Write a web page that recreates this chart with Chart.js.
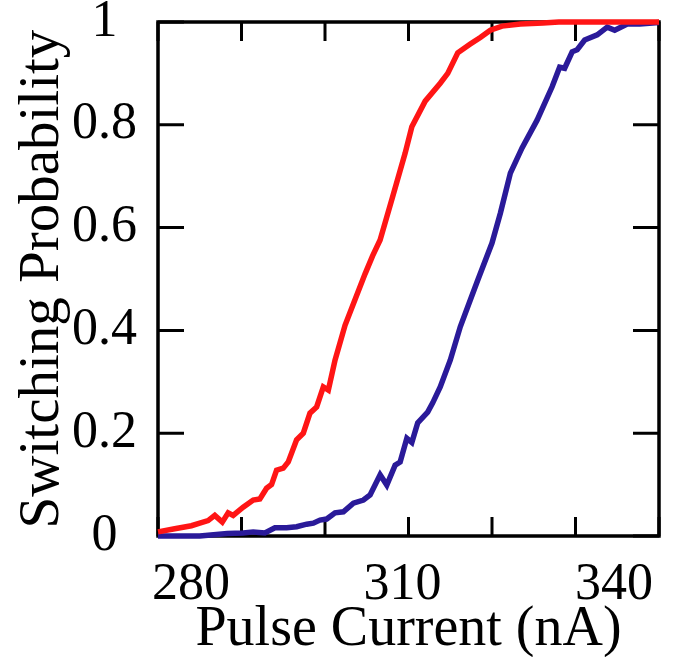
<!DOCTYPE html>
<html>
<head>
<meta charset="utf-8">
<script src="https://cdn.jsdelivr.net/npm/chart.js@4"></script>
<style>
  html, body { margin: 0; padding: 0; background: #fff; }
  #wrap { width: 694px; height: 657px; }
</style>
</head>
<body>
<div id="wrap"><canvas id="c" width="694" height="657"></canvas></div>
<script>
// ---- data ----
const currentRed = [280, 282, 284, 285, 286, 286.8, 287.7, 288.4, 289, 290.2, 291.4, 292.2, 293, 293.6, 294.2, 295, 295.6, 296.6, 297.4, 298.2, 299, 299.8, 300.4, 301.2, 302.4, 303.6, 304.8, 305.7, 306.6, 308.1, 309.6, 310.4, 312, 313.8, 314.7, 315.9, 317.4, 318.6, 319.8, 321.2, 323.4, 326.1, 328, 340];
const probRed = [0.008, 0.014, 0.02, 0.025, 0.03, 0.04, 0.027, 0.045, 0.04, 0.056, 0.07, 0.072, 0.093, 0.1, 0.128, 0.132, 0.144, 0.187, 0.2, 0.239, 0.251, 0.29, 0.284, 0.342, 0.41, 0.46, 0.51, 0.545, 0.576, 0.66, 0.745, 0.796, 0.846, 0.881, 0.9, 0.94, 0.957, 0.97, 0.984, 0.992, 0.996, 0.998, 1, 1];

const currentBlue = [280, 285, 288.3, 290.2, 291.4, 292.8, 294, 295.4, 296.6, 297.8, 298.6, 299.4, 300.2, 301.2, 302.2, 303.4, 304.6, 305.4, 306.6, 307.4, 308.4, 309, 309.8, 310.4, 311.1, 312.3, 312.9, 313.8, 315, 316.2, 317.4, 318.3, 320, 321, 322.2, 323.6, 325.4, 327.2, 328.1, 328.7, 329.6, 330.2, 331.1, 332.6, 333.8, 334.7, 336.2, 337.7, 340];
const probBlue = [0, 0, 0.005, 0.006, 0.008, 0.006, 0.016, 0.016, 0.018, 0.023, 0.025, 0.031, 0.033, 0.045, 0.047, 0.064, 0.07, 0.08, 0.119, 0.099, 0.138, 0.144, 0.19, 0.182, 0.22, 0.241, 0.259, 0.29, 0.342, 0.407, 0.459, 0.498, 0.57, 0.628, 0.706, 0.755, 0.809, 0.874, 0.912, 0.91, 0.942, 0.946, 0.965, 0.975, 0.99, 0.984, 0.996, 0.996, 0.999];

const xTickLabels = [280, 310, 340];
const yTickLabels = [0, 0.2, 0.4, 0.6, 0.8, 1];
const xTitle = 'Pulse Current (nA)';
const yTitle = 'Switching Probability';

const toPoints = (xs, ys) => xs.map((x, i) => ({ x: x, y: ys[i] }));

const FONT = '"Liberation Serif", "DejaVu Serif", serif';

// frame + inward ticks drawn from the chart's own scales
const framePlugin = {
  id: 'frame',
  beforeDatasetsDraw(chart) {
    const { ctx, chartArea: a, scales } = chart;
    ctx.save();
    ctx.strokeStyle = '#000';
    ctx.lineWidth = 3;
    ctx.lineCap = 'butt';
    ctx.beginPath();
    scales.x.ticks.forEach(t => {
      const px = scales.x.getPixelForValue(t.value);
      ctx.moveTo(px, a.bottom); ctx.lineTo(px, a.bottom - 19);
      ctx.moveTo(px, a.top); ctx.lineTo(px, a.top + 19);
    });
    scales.y.ticks.forEach(t => {
      const py = scales.y.getPixelForValue(t.value);
      ctx.moveTo(a.left, py); ctx.lineTo(a.left + 26, py);
      ctx.moveTo(a.right, py); ctx.lineTo(a.right - 26, py);
    });
    ctx.stroke();
    ctx.lineWidth = 3.5;
    ctx.strokeRect(a.left, a.top, a.right - a.left, a.bottom - a.top);
    ctx.restore();
  }
};

new Chart(document.getElementById('c'), {
  type: 'line',
  data: {
    datasets: [
      {
        data: toPoints(currentRed, probRed),
        borderColor: '#ff1515',
        borderWidth: 5.5,
        pointRadius: 0,
        tension: 0,
        fill: false,
        clip: false
      },
      {
        data: toPoints(currentBlue, probBlue),
        borderColor: '#2a1a99',
        borderWidth: 5.5,
        pointRadius: 0,
        tension: 0,
        fill: false,
        clip: false
      }
    ]
  },
  options: {
    responsive: false,
    animation: false,
    events: [],
    layout: { padding: { top: 22, right: 35, left: 0, bottom: 0 } },
    plugins: { legend: { display: false }, tooltip: { enabled: false } },
    scales: {
      x: {
        type: 'linear',
        min: 280,
        max: 340,
        grid: { display: false },
        border: { display: false },
        ticks: {
          stepSize: 10,
          autoSkip: false,
          maxRotation: 0,
          align: 'inner',
          labelOffset: -6,
          padding: 10,
          color: '#000',
          font: { family: FONT, size: 52 },
          callback: v => (xTickLabels.includes(v) ? String(v) : '')
        },
        title: {
          display: true,
          text: xTitle,
          color: '#000',
          font: { family: FONT, size: 56, lineHeight: 1 },
          padding: { top: 0, bottom: -1 }
        },
        afterFit(s) { s.height = 121; s.paddingLeft = 0; s.paddingRight = 0; s.paddingTop = 0; s.paddingBottom = 0; }
      },
      y: {
        min: 0,
        max: 1,
        grid: { display: false },
        border: { display: false },
        ticks: {
          stepSize: 0.2,
          crossAlign: 'center',
          padding: 13,
          color: '#000',
          font: { family: FONT, size: 52 },
          callback: v => {
            const r = Math.round(v * 10) / 10;
            return yTickLabels.includes(r) ? String(r) : '';
          }
        },
        title: {
          display: true,
          text: yTitle,
          color: '#000',
          font: { family: FONT, size: 57 },
          padding: { top: 9, bottom: 0 }
        },
        afterFit(s) { s.width = 158; s.paddingLeft = 0; s.paddingRight = 0; s.paddingTop = 0; s.paddingBottom = 0; }
      }
    }
  },
  plugins: [framePlugin]
});
</script>
</body>
</html>
